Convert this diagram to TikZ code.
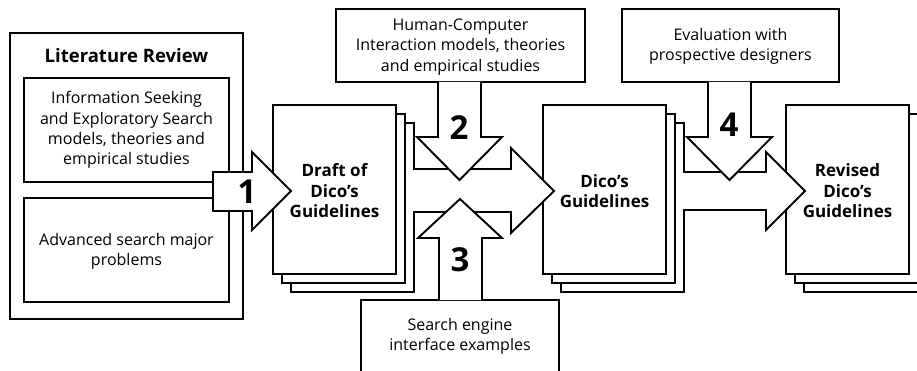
\documentclass[tikz,border=0pt]{standalone}
\usepackage{fontspec}
\setmainfont{Open Sans}
\begin{document}
\begin{tikzpicture}[x=1pt,y=-1pt,line width=1.9pt,line join=miter,
  box/.style={draw=black,fill=white},
  txt/.style={align=center,font=\fontsize{16}{20.3}\selectfont,inner sep=0pt},
  btxt/.style={align=center,font=\fontsize{17}{20.5}\selectfont\bfseries,inner sep=0pt},
  ttxt/.style={font=\fontsize{18.5}{20}\selectfont\bfseries,inner sep=0pt},
  num/.style={font=\fontsize{33}{33}\selectfont\bfseries,inner sep=0pt},
  blockarrow/.style={draw=black,fill=white}]
\useasboundingbox (0,0) rectangle (917,371);
\clip (0,0) rectangle (917,371);
% Literature review
\draw[box] (10,33) rectangle (243,319);
\node[ttxt] (lit) at (126.5,56) {Literature Review};
\draw[box] (24,78) rectangle (229,182);
\node[txt] (info) at (126.5,130) {Information Seeking\\and Exploratory Search\\models, theories and\\empirical studies};
\draw[box] (24,198) rectangle (229,302);
\node[txt] (adv) at (126.5,251) {Advanced search major\\problems};
% page stacks
\foreach \px in {273,543,786}{
  \draw[box] (\px+18,123) rectangle (\px+141,292);
  \draw[box] (\px+9,114) rectangle (\px+132,283);
  \draw[box] (\px,105) rectangle (\px+123,274);
}
\node[btxt] (draft) at (334.5,191) {Draft of\\Dico’s\\Guidelines};
\node[btxt] (dico) at (604.5,191) {Dico’s\\Guidelines};
\node[btxt] (revised) at (847.5,191) {Revised\\Dico’s\\Guidelines};
% source boxes
\draw[box] (336,9) rectangle (585,82);
\node[txt] (hci) at (460.5,47) {Human-Computer\\Interaction models, theories\\and empirical studies};
\draw[box] (622,9) rectangle (839,82);
\node[txt] (eval) at (730.5,46) {Evaluation with\\prospective designers};
\draw[box] (361,300) rectangle (559,390);
\node[txt] (search) at (460,336) {Search engine\\interface examples};
% horizontal block arrows
\filldraw[blockarrow] (413,169)--(511,169)--(511,148)--(554,191)--(511,233)--(511,212)--(413,212);
\filldraw[blockarrow] (683,172)--(766,172)--(766,152)--(805,191)--(766,230)--(766,210)--(683,210);
% vertical block arrows
\filldraw[blockarrow] (438,82)--(438,137)--(417,137)--(459.5,180)--(502,137)--(481,137)--(481,82);
\filldraw[blockarrow] (439,300)--(439,238)--(418,238)--(460,199)--(502,238)--(482,238)--(482,300);
\filldraw[blockarrow] (708,82)--(708,137)--(687,137)--(729.5,180)--(772,137)--(751,137)--(751,82);
% arrow 1
\filldraw[blockarrow] (213,172)--(252,172)--(252,152)--(291,191)--(252,230)--(252,211)--(213,211)--cycle;
% numbers
\node[num] (n1) at (247,192) {1};
\node[num] (n2) at (459,128) {2};
\node[num] (n3) at (460,260) {3};
\node[num] (n4) at (729,125) {4};
\end{tikzpicture}
\end{document}
